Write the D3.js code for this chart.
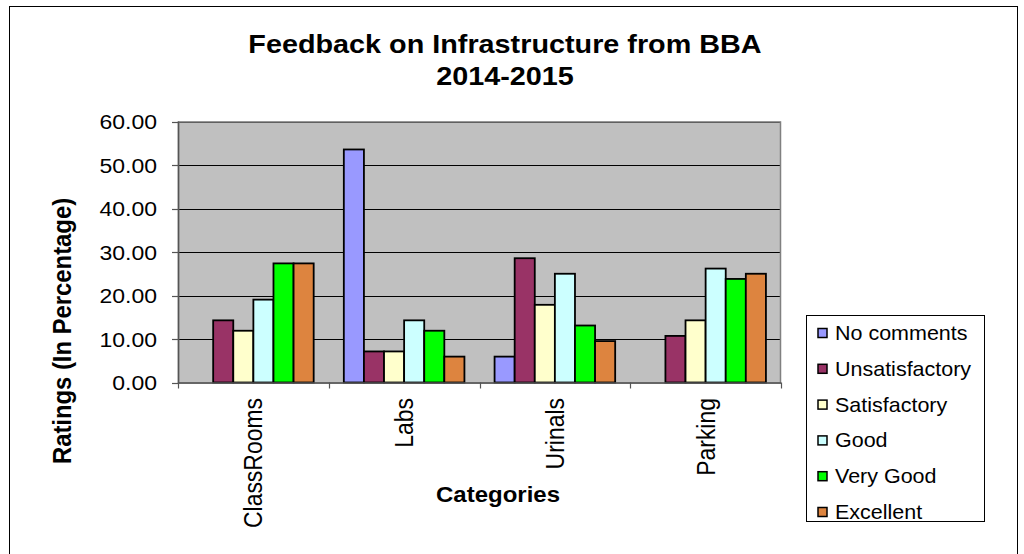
<!DOCTYPE html>
<html>
<head>
<meta charset="utf-8">
<script src="https://cdn.jsdelivr.net/npm/d3@7"></script>
<style>
  html, body { margin: 0; padding: 0; background: #fff; }
  svg { display: block; font-family: "Liberation Sans", Arial, sans-serif; }
</style>
</head>
<body>
<svg id="chart" width="1024" height="554"></svg>
<script>
const titleLines = ["Feedback on Infrastructure from BBA", "2014-2015"];
const categories = ["ClassRooms", "Labs", "Urinals", "Parking"];
const seriesNames = ["No comments", "Unsatisfactory", "Satisfactory", "Good", "Very Good", "Excellent"];
const seriesColors = ["#9999FF", "#993366", "#FFFFCC", "#CCFFFF", "#00FF00", "#DD843F"];
const noComments     = [0.00, 53.57, 5.95, 0.00];
const unsatisfactory = [14.29, 7.14, 28.57, 10.71];
const satisfactory   = [11.90, 7.14, 17.86, 14.29];
const good           = [19.05, 14.29, 25.00, 26.19];
const veryGood       = [27.38, 11.90, 13.10, 23.81];
const excellent      = [27.38, 5.95, 9.52, 25.00];
const yTicks = [0, 10, 20, 30, 40, 50, 60];
const yTitle = "Ratings (In Percentage)";
const xTitle = "Categories";

const seriesValues = [noComments, unsatisfactory, satisfactory, good, veryGood, excellent];

const svg = d3.select("#chart");
const SQ = 0.9; // vertical squash of the reference text

function place(sel, x, y, rotate) {
  return sel.attr("transform", `translate(${x},${y}) scale(1,${SQ})` + (rotate ? " rotate(-90)" : ""));
}

// outer chart border
svg.append("rect").attr("x", 9.5).attr("y", 6.5).attr("width", 1008).attr("height", 600)
  .attr("fill", "#fff").attr("stroke", "#000").attr("stroke-width", 1);

// plot geometry
const L = 178, R = 781, T = 121.5, B = 382.5;
const x0 = d3.scaleBand().domain(categories).range([L, R]).padding(0);
const barW = x0.bandwidth() / (seriesNames.length + 1.5);
const x1 = d3.scaleBand().domain(seriesNames)
  .range([barW * 0.75, barW * 0.75 + barW * seriesNames.length]).padding(0);
const y = d3.scaleLinear().domain([0, 60]).range([B, T]);

// plot background
svg.append("rect").attr("x", L).attr("y", T).attr("width", R - L).attr("height", B - T)
  .attr("fill", "#C0C0C0");

// gridlines
svg.append("g").selectAll("line").data(yTicks.filter(d => d > 0)).join("line")
  .attr("x1", L).attr("x2", R)
  .attr("y1", d => Math.round(y(d)) + 0.5).attr("y2", d => Math.round(y(d)) + 0.5)
  .attr("stroke", "#000").attr("stroke-width", 1);

// plot border
svg.append("rect").attr("x", L + 0.5).attr("y", T + 0.5).attr("width", R - L - 1).attr("height", B - T)
  .attr("fill", "none").attr("stroke", "#808080").attr("stroke-width", 1.5);

// bars
const barData = [];
categories.forEach((c, ci) => {
  seriesNames.forEach((s, si) => {
    barData.push({ c, s, si, v: seriesValues[si][ci] });
  });
});
svg.append("g").selectAll("rect").data(barData.filter(d => d.v > 0)).join("rect")
  .attr("x", d => x0(d.c) + x1(d.s))
  .attr("y", d => y(d.v))
  .attr("width", x1.bandwidth())
  .attr("height", d => y(0) - y(d.v))
  .attr("fill", d => seriesColors[d.si])
  .attr("stroke", "#000").attr("stroke-width", 1.8);

// y axis
const yAxis = svg.append("g");
yAxis.append("line").attr("x1", L + 0.5).attr("x2", L + 0.5).attr("y1", T).attr("y2", B + 1)
  .attr("stroke", "#555").attr("stroke-width", 1.5);
yAxis.selectAll("line.tick").data(yTicks).join("line").attr("class", "tick")
  .attr("x1", L - 6).attr("x2", L)
  .attr("y1", d => Math.round(y(d)) + 0.5).attr("y2", d => Math.round(y(d)) + 0.5)
  .attr("stroke", "#555").attr("stroke-width", 1.2);
yAxis.selectAll("text").data(yTicks).join("text")
  .attr("text-anchor", "end").attr("font-size", 23).attr("fill", "#000")
  .each(function (d) { place(d3.select(this), 157, y(d) + 7.5, false); })
  .text(d => d3.format(".2f")(d));

// x axis
const xAxis = svg.append("g");
xAxis.append("line").attr("x1", L).attr("x2", R).attr("y1", B + 0.5).attr("y2", B + 0.5)
  .attr("stroke", "#555").attr("stroke-width", 1.5);
const bounds = categories.map(c => x0(c)).concat([R]);
xAxis.selectAll("line.tick").data(bounds).join("line").attr("class", "tick")
  .attr("x1", d => Math.round(d) + 0.5).attr("x2", d => Math.round(d) + 0.5)
  .attr("y1", B).attr("y2", B + 6)
  .attr("stroke", "#555").attr("stroke-width", 1.2);
xAxis.selectAll("text").data(categories).join("text")
  .attr("text-anchor", "end").attr("font-size", 25.5).attr("fill", "#000")
  .each(function (d) { place(d3.select(this), x0(d) + x0.bandwidth() / 2 + 9, 398, true); })
  .text(d => d);

// titles
const title = svg.append("g");
titleLines.forEach((t, i) => {
  place(title.append("text"), 505, 53 + i * 32, false)
    .attr("text-anchor", "middle").attr("font-size", 28.8).attr("font-weight", "bold").text(t);
});
place(svg.append("text"), 498, 502, false)
  .attr("text-anchor", "middle").attr("font-size", 24).attr("font-weight", "bold").text(xTitle);
place(svg.append("text"), 71, 331, true)
  .attr("text-anchor", "middle").attr("font-size", 26.5).attr("font-weight", "bold").text(yTitle);

// legend
const lg = svg.append("g");
lg.append("rect").attr("x", 806.5).attr("y", 315.5).attr("width", 178).attr("height", 206)
  .attr("fill", "#fff").attr("stroke", "#000").attr("stroke-width", 1);
const ly = d3.scalePoint().domain(seriesNames).range([333, 512]);
lg.selectAll("rect.sw").data(seriesNames).join("rect").attr("class", "sw")
  .attr("x", 818).attr("y", d => ly(d) - 4.5).attr("width", 9).attr("height", 9)
  .attr("fill", (d, i) => seriesColors[i]).attr("stroke", "#000").attr("stroke-width", 1.5);
lg.selectAll("text").data(seriesNames).join("text")
  .attr("font-size", 21.5).attr("fill", "#000")
  .each(function (d) { place(d3.select(this), 835, ly(d) + 7, false); })
  .text(d => d);
</script>
</body>
</html>
